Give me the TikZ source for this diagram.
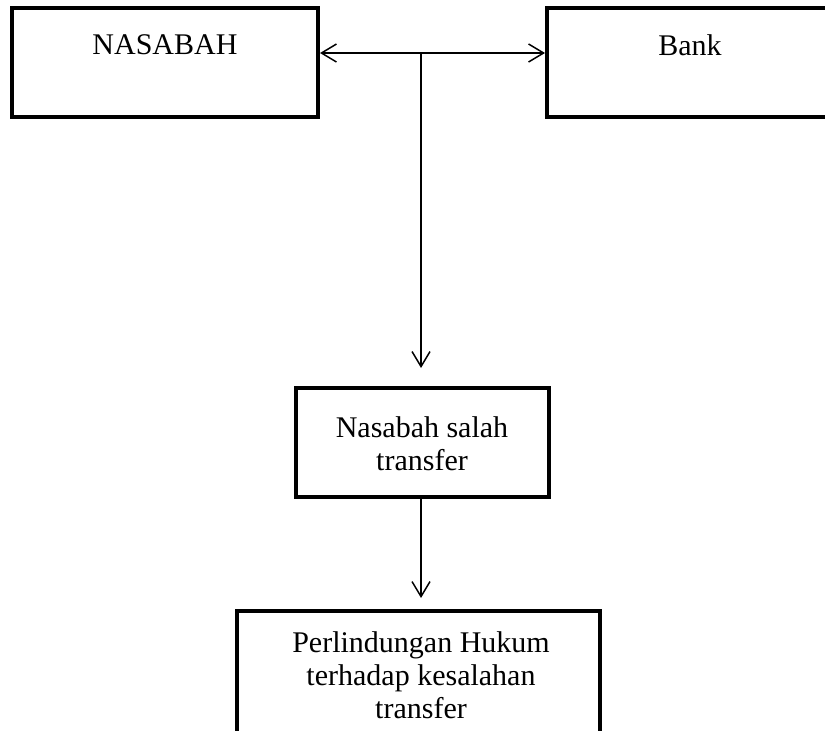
\documentclass[tikz,border=0pt]{standalone}
\usepackage{fontspec}
\setmainfont{Liberation Serif}
\usetikzlibrary{arrows.meta}
\begin{document}
\begin{tikzpicture}[x=1pt,y=-1pt,
  box/.style={draw=black,line width=4pt,minimum width=#1,inner sep=0pt},
  lbl/.style={inner sep=0pt,align=center,anchor=north,font=\fontsize{30}{33}\selectfont},
  conn/.style={draw=black,line width=1.5pt,-{Straight Barb[length=15pt,width=18pt,line width=1.5pt]}},
  conn2/.style={draw=black,line width=1.5pt,{Straight Barb[length=15pt,width=18pt,line width=1.5pt]}-{Straight Barb[length=15pt,width=18pt,line width=1.5pt]}}]
\useasboundingbox (0,0) rectangle (825,731);
\clip (0,0) rectangle (825,731);
\fill[white] (0,0) rectangle (825,731);
% boxes
\node[box=306pt,minimum height=109pt] (nas) at (165,62.5) {};
\node[box=288pt,minimum height=109pt] (bank) at (691,62.5) {};
\node[box=253pt,minimum height=109pt] (mid) at (422.5,442.5) {};
\node[box=363pt,minimum height=130pt] (bot) at (418.5,676) {};
% texts
\node[lbl] (tnas) at (165,34.5) {NASABAH};
\node[lbl] (tbank) at (690,34.5) {Bank};
\node[lbl] (tmid) at (422,416.5) {Nasabah salah\\transfer};
\node[lbl] (tbot) at (421,631.5) {Perlindungan Hukum\\terhadap kesalahan\\transfer};
% connectors
\coordinate (j) at (421,53);
\draw[conn2] (nas.east |- j) -- (bank.west |- j);
\draw[conn,shorten >=18pt] (j) -- (j |- mid.north);
\draw[conn,shorten >=11pt] (mid.south -| j) -- (j |- bot.north);
\end{tikzpicture}
\end{document}
